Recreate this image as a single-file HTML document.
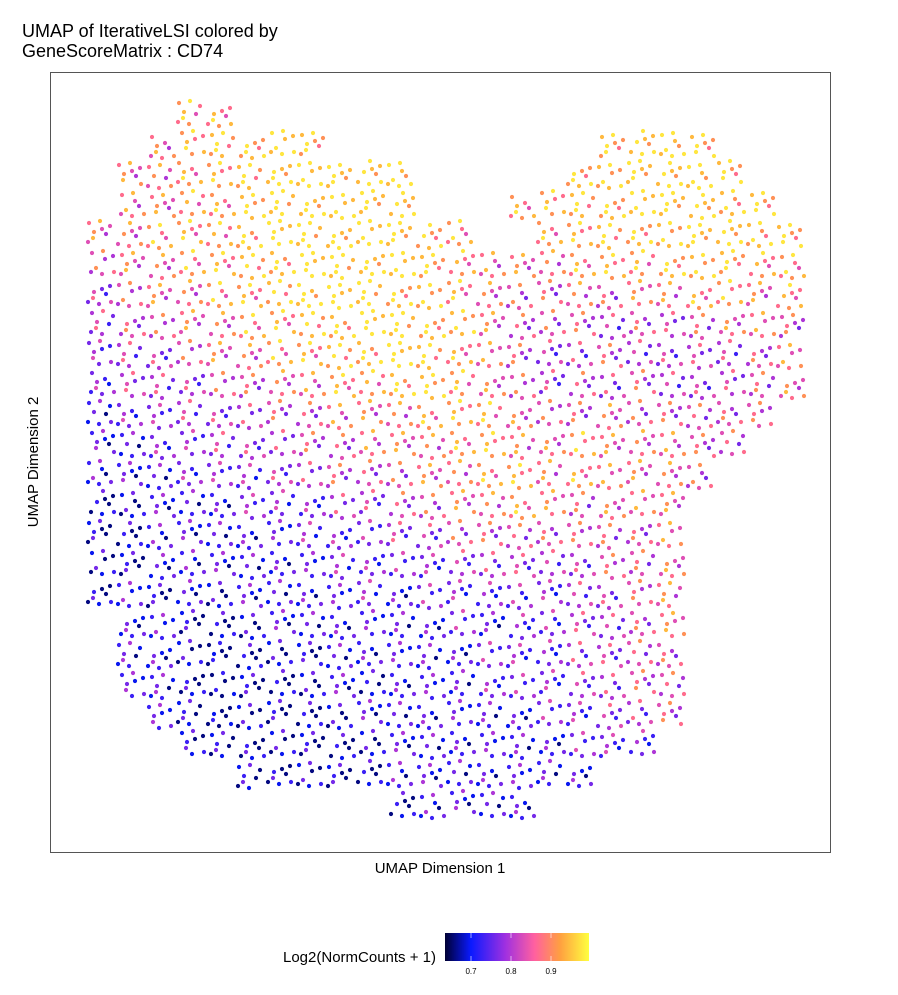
<!DOCTYPE html>
<html><head><meta charset="utf-8">
<style>
body{margin:0;background:#fff;font-family:"Liberation Sans",sans-serif;}
svg text{font-family:"Liberation Sans",sans-serif;}
</style></head>
<body>
<svg id="chart" width="898" height="990">
<defs>
<linearGradient id="grad" x1="0" x2="1" y1="0" y2="0">
<stop offset="0" stop-color="#000033"/>
<stop offset="0.18" stop-color="#0a1aff"/>
<stop offset="0.42" stop-color="#a030e0"/>
<stop offset="0.62" stop-color="#ff60a0"/>
<stop offset="0.8" stop-color="#ffa040"/>
<stop offset="1" stop-color="#ffff40"/>
</linearGradient>
</defs>
<text x="22" y="37" font-size="18">UMAP of IterativeLSI colored by</text>
<text x="22" y="57" font-size="18">GeneScoreMatrix : CD74</text>
<rect x="50.5" y="72.5" width="780" height="780" fill="none" stroke="#555" stroke-width="1"/>
<g id="points"></g>
<text x="440" y="873" font-size="15" text-anchor="middle">UMAP Dimension 1</text>
<text x="38" y="462" font-size="15" text-anchor="middle" transform="rotate(-90 38 462)">UMAP Dimension 2</text>
<text x="436" y="962" font-size="15" text-anchor="end">Log2(NormCounts + 1)</text>
<rect x="445" y="933" width="144" height="28" fill="url(#grad)"/>
<g id="legend-ticks"></g>
</svg>
<script>
// density grid of expression level codes (0..9), '.' = no cells
const gridRows = [
"...77...................",
"..678898.........8998...",
".6677899999.....889998..",
".6677899999...778899988.",
"6677789999987..778889988",
"566778899998766677788877",
"456677899988765565667767",
"455667788998865554545665",
"344566778898765445444456",
"344455667788765454544456",
"23344455666777655655555.",
"2233444556667766766655..",
"222333445556677676665...",
"11222333445566765666....",
"11222223334455555556....",
"11222222333344444556....",
"12121222232333334456....",
".2211122222232334456....",
".2210111222223334455....",
".2210111212223334455....",
"..210111122222233445....",
"...1111111222222333.....",
".....111112222222.......",
"..........12222........."
];
const levelValues = [0.66,0.695,0.73,0.765,0.80,0.835,0.87,0.905,0.94,0.975];
const legendTicks = [0.7,0.8,0.9];
const legendLabels = ["0.7","0.8","0.9"];

const x0=85, y0=100, cell=30;
const lx=v=>445+(v-0.635)*400;
const stops=[[0.635,[0,0,51]],[0.7,[10,26,255]],[0.79,[160,48,224]],[0.858,[255,96,160]],[0.92,[255,160,64]],[0.995,[255,255,64]]];
function color(v){
  for(let i=1;i<stops.length;i++){ if(v<=stops[i][0]||i==stops.length-1){
    const a=stops[i-1],b=stops[i];let t=(v-a[0])/(b[0]-a[0]);t=Math.max(0,Math.min(1,t));
    return 'rgb('+a[1].map((c,k)=>Math.round(c+(b[1][k]-c)*t)).join(',')+')';}}
}
const pattern=[[4,5,0],[15,3,2],[25,8,-1],[9,14,1],[21,16,-2],[3,24,-1],[14,26,0],[26,24,1],[17,11,-1],[8,20,2]];
const g=document.getElementById('points');
const ns='http://www.w3.org/2000/svg';
gridRows.forEach((row,r)=>{
  for(let c=0;c<24;c++){
    const ch=row[c]; if(!ch||ch<'0'||ch>'9') continue;
    const d=+ch;
    const shift=(r*7+c*3)%10;
    for(let k=0;k<8;k++){
      const p=pattern[(k+shift)%10];
      const lvl=Math.max(0,Math.min(9,d+p[2]));
      const e=document.createElementNS(ns,'circle');
      e.setAttribute('cx',x0+c*cell+p[0]+((r%2)*3));
      e.setAttribute('cy',y0+r*cell+p[1]+((c%3)-1)*2);
      e.setAttribute('r',2.1);
      e.setAttribute('fill',color(levelValues[lvl]));
      
      
      g.appendChild(e);
    }
  }
});
const lt=document.getElementById('legend-ticks');
legendTicks.forEach((v,i)=>{
  const l=document.createElementNS(ns,'line');
  l.setAttribute('x1',lx(v));l.setAttribute('x2',lx(v));l.setAttribute('y1',933);l.setAttribute('y2',961);
  l.setAttribute('stroke','rgba(255,255,255,0.6)');l.setAttribute('stroke-dasharray','5 18');
  
  
  lt.appendChild(l);
  const t=document.createElementNS(ns,'text');
  t.setAttribute('x',lx(v));t.setAttribute('y',974);t.setAttribute('font-size','8');t.setAttribute('text-anchor','middle');
  t.textContent=legendLabels[i];
  
  
  lt.appendChild(t);
});
</script>
</body></html>
